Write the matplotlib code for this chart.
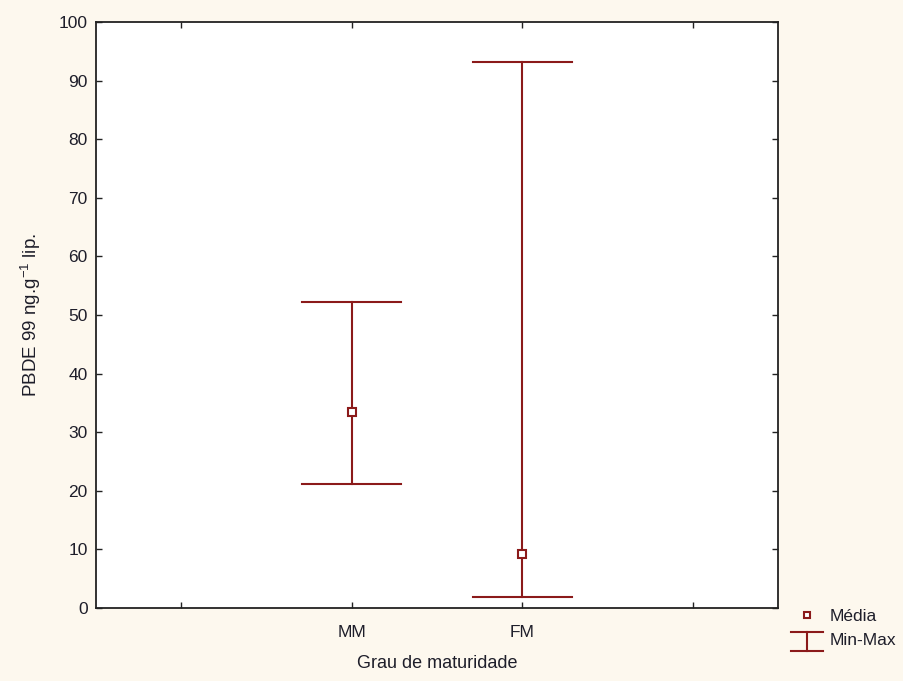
import matplotlib.pyplot as plt

# PBDE 99 by maturity stage
groups = ["MM", "FM"]
group_pos = [2, 3]
means = [33.4, 9.2]
mins = [21.2, 1.9]
maxs = [52.2, 93.2]

tick_pos = [1, 2, 3, 4]
tick_labels = ["", "MM", "FM", ""]

plt.rcParams["font.family"] = ["Liberation Sans", "DejaVu Sans"]
plt.rcParams["mathtext.default"] = "regular"

red = "#8b1a1a"
bg = "#fdf8ee"
txt = "#1e1e2a"

fig = plt.figure(figsize=(9.04, 6.81), dpi=100, facecolor=bg)
ax = fig.add_axes([0.1062, 0.1072, 0.7544, 0.8605])
ax.set_facecolor("white")

cap = 0.29
for x, lo, hi, m in zip(group_pos, mins, maxs, means):
    ax.plot([x, x], [lo, hi], color=red, lw=1.5, zorder=2)
    ax.plot([x - cap, x + cap], [lo, lo], color=red, lw=1.5, zorder=2)
    ax.plot([x - cap, x + cap], [hi, hi], color=red, lw=1.5, zorder=2)
    ax.plot(x, m, marker="s", ms=6, mfc="white", mec=red, mew=1.5, zorder=3)

ax.set_xlim(0.5, 4.5)
ax.set_ylim(0, 100)
ax.set_xticks(tick_pos)
ax.set_xticklabels(tick_labels)
ax.set_yticks(range(0, 101, 10))
ax.tick_params(direction="in", length=4, width=1, top=True, right=True,
               labelsize=12.5, colors="#222222", labelcolor=txt)
ax.tick_params(axis="y", pad=6)
ax.tick_params(axis="x", pad=12)
for s in ax.spines.values():
    s.set_linewidth(1.3)
    s.set_color("#222222")

ax.set_xlabel("Grau de maturidade", fontsize=13, labelpad=11, color=txt)
ax.set_ylabel("PBDE 99 ng.g$^{-1}$ lip.", fontsize=13.5, labelpad=11, color=txt)

# hand-drawn legend outside the axes, bottom right
tr = ax.transAxes
ax.plot([1.0425], [-0.012], marker="s", ms=5, mfc="white", mec=red, mew=1.5,
        transform=tr, clip_on=False)
ax.text(1.076, -0.015, "Média", transform=tr, fontsize=12.5, va="center",
        color=txt)
ax.plot([1.019, 1.066], [-0.041, -0.041], color=red, lw=1.5, transform=tr, clip_on=False)
ax.plot([1.019, 1.066], [-0.0735, -0.0735], color=red, lw=1.5, transform=tr, clip_on=False)
ax.plot([1.0425, 1.0425], [-0.041, -0.0735], color=red, lw=1.5, transform=tr, clip_on=False)
ax.text(1.076, -0.056, "Min-Max", transform=tr, fontsize=12.5, va="center",
        color=txt)

fig.savefig("out.png", dpi=100, facecolor=bg)
